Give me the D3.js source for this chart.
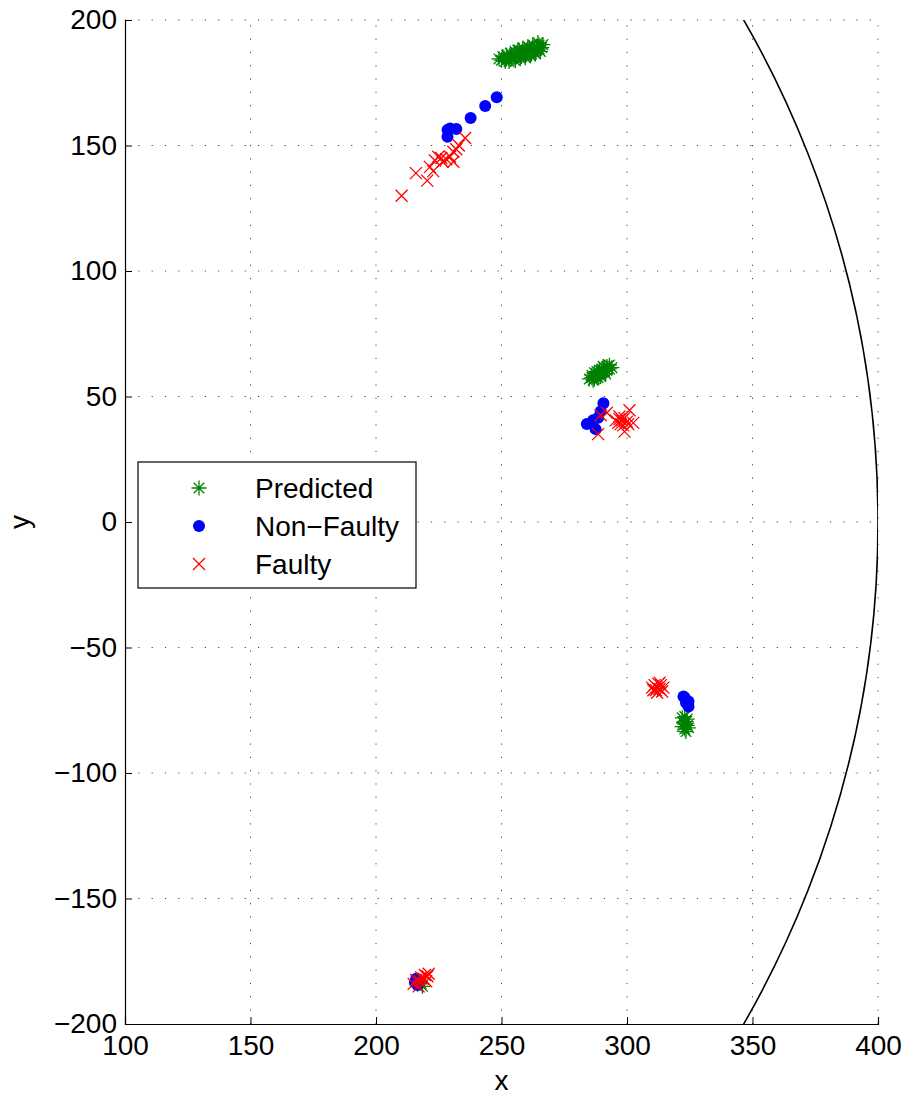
<!DOCTYPE html>
<html>
<head>
<meta charset="utf-8">
<script src="https://cdn.jsdelivr.net/npm/d3@7"></script>
<style>
  body { margin: 0; background: #fff; }
  text { font-family: "Liberation Sans", Arial, sans-serif; }
</style>
</head>
<body>
<div id="graph"></div>
<script>
// tick labels
const xTicks = [100, 150, 200, 250, 300, 350, 400];
const yTicks = [-200, -150, -100, -50, 0, 50, 100, 150, 200];
const circleRadius = 400;

// predicted positions (green asterisks)
const predicted = [
  [249, 184.5], [250, 184], [250.5, 185.5], [251, 185], [251.5, 183.5], [252, 184.5], [252, 186],
  [253, 185], [253, 183.5], [253.5, 186.8], [254, 186], [254, 184.5], [255, 186.5], [255, 185],
  [255.5, 183.8], [256, 187], [256, 185.5], [256.5, 188], [257, 186], [257, 188], [257.5, 184.8],
  [258, 187], [258, 185.5], [258.5, 188.8], [259, 187.5], [259, 186], [259.5, 185], [260, 188],
  [260, 186.5], [260.5, 189.3], [261, 187], [261, 189], [261.5, 185.8], [262, 188], [262, 186.5],
  [262.5, 190], [263, 189], [263, 187.5], [263.5, 186.5], [264, 188], [264, 189.5], [264.5, 191],
  [265, 188.5], [265, 190], [265.5, 187.5], [266, 189], [266.5, 190.2],
  [285, 57], [286, 57.5], [286, 58.5], [286.5, 56.5], [287, 58], [287, 59.5], [287, 57],
  [288, 58.5], [288, 60], [288.5, 57.5], [289, 59], [289, 60.5], [289.5, 58], [290, 59.5],
  [290, 61], [290.5, 62], [291, 60], [291, 61.5], [291.5, 59], [292, 60.5], [292, 62],
  [293, 61], [293, 62.5], [294, 61.5],
  [322, -78], [323, -77.5], [324, -78.5], [322.5, -80], [323.5, -79.5], [324, -81],
  [322, -81.5], [323, -82.5], [324.5, -82], [323, -80.5], [323.5, -83.5],
  [218, -184], [218.5, -185], [217.5, -183]
];

// non-faulty measurements (blue dots)
const nonFaulty = [
  [248.1, 169.2], [243.5, 165.7], [237.7, 161], [232, 156.6], [229.5, 156.8], [228.5, 156.2], [228.5, 153.5],
  [290.6, 47.3], [289.5, 44], [288.5, 41.5], [286.5, 40.5], [284, 39], [287.5, 37],
  [322.5, -69.5], [323, -70], [324.5, -71.5], [324.5, -73.5], [323.5, -72],
  [215.5, -183.5], [216, -182], [216.5, -184.5], [217, -183]
];

// faulty measurements (red crosses)
const faulty = [
  [210.2, 130], [215.9, 139], [220.4, 136], [221.5, 141.5], [222.8, 139.8], [223.5, 144],
  [224.8, 145.5], [226, 145], [226.5, 143.5], [228, 144.5], [229.5, 145.5], [230.8, 147.5],
  [232, 148.5], [230.8, 143.5], [233, 150], [235.5, 153],
  [289.5, 42.5], [292, 43.5], [288.5, 35], [295.5, 40.5], [296.5, 39.5], [297, 41], [297.5, 39],
  [298, 40.5], [298.5, 38.5], [299, 41.5], [299, 36], [300, 40], [300.5, 39], [301, 44.5],
  [302.5, 39.5], [297, 42],
  [310, -66], [311, -65], [311.5, -67], [312, -66], [312.5, -64.5], [313, -66.5], [313.5, -65],
  [314, -67.5], [314.5, -66], [312, -68], [310.5, -67], [313, -64],
  [215, -184], [216, -182.5], [217.5, -183], [218, -181.5], [219, -182], [219.5, -180.5],
  [220.5, -181], [221, -180], [217, -185], [220, -183]
];

const width = 906, height = 1097;
const margin = {top: 20, right: 28, bottom: 73, left: 125};
const fontSize = 28;

const svg = d3.select("#graph").append("svg")
    .attr("width", width)
    .attr("height", height);

const x = d3.scaleLinear().domain([100, 400]).range([margin.left, width - margin.right]);
const y = d3.scaleLinear().domain([-200, 200]).range([height - margin.bottom, margin.top]);

svg.append("clipPath").attr("id", "clip")
  .append("rect")
    .attr("x", x(100)).attr("y", y(200))
    .attr("width", x(400) - x(100)).attr("height", y(-200) - y(200));

// dotted grid
const grid = svg.append("g")
    .attr("stroke", "#444")
    .attr("stroke-width", 1)
    .attr("stroke-dasharray", "1.2,12.1");
grid.selectAll(".gx").data(xTicks.slice(1)).join("line")
    .attr("x1", d => x(d)).attr("x2", d => x(d))
    .attr("y1", y(-200)).attr("y2", y(200));
grid.selectAll(".gy").data(yTicks.slice(1)).join("line")
    .attr("y1", d => y(d)).attr("y2", d => y(d))
    .attr("x1", x(100)).attr("x2", x(400));

// the circle boundary
svg.append("circle")
    .attr("clip-path", "url(#clip)")
    .attr("cx", x(0)).attr("cy", y(0))
    .attr("r", x(circleRadius) - x(0))
    .attr("fill", "none")
    .attr("stroke", "#000")
    .attr("stroke-width", 1.6);

// markers
const star = "M-7.5,0H7.5M0,-7.5V7.5M-5.3,-5.3L5.3,5.3M-5.3,5.3L5.3,-5.3";
const cross = "M-6,-6L6,6M-6,6L6,-6";

svg.append("g").selectAll("path").data(predicted).join("path")
    .attr("transform", d => `translate(${x(d[0])},${y(d[1])})`)
    .attr("d", star)
    .attr("stroke", "#008000").attr("stroke-width", 1.3).attr("fill", "none");

svg.append("g").selectAll("circle").data(nonFaulty).join("circle")
    .attr("cx", d => x(d[0])).attr("cy", d => y(d[1]))
    .attr("r", 6)
    .attr("fill", "#0000ff");

svg.append("g").selectAll("path").data(faulty).join("path")
    .attr("transform", d => `translate(${x(d[0])},${y(d[1])})`)
    .attr("d", cross)
    .attr("stroke", "#ff0000").attr("stroke-width", 1.3).attr("fill", "none");

// axes (left and bottom only, ticks inward)
const xAxis = svg.append("g")
    .attr("transform", `translate(0,${y(-200)})`)
    .call(d3.axisTop(x).tickValues(xTicks).tickSize(7).tickFormat(d3.format("d")));
xAxis.select(".domain").attr("stroke-width", 1.2);
xAxis.selectAll("text")
    .attr("y", 11).attr("dy", "0.71em")
    .attr("font-size", fontSize).attr("fill", "#000");

const yAxis = svg.append("g")
    .attr("transform", `translate(${x(100)},0)`)
    .call(d3.axisRight(y).tickValues(yTicks).tickSize(7)
      .tickFormat(d => d < 0 ? "\u2212" + Math.abs(d) : d));
yAxis.select(".domain").attr("stroke-width", 1.2);
yAxis.selectAll("text")
    .attr("x", -8).attr("text-anchor", "end")
    .attr("font-size", fontSize).attr("fill", "#000");

svg.append("text")
    .attr("x", (x(100) + x(400)) / 2).attr("y", 1090)
    .attr("text-anchor", "middle")
    .attr("font-size", fontSize)
    .text("x");

svg.append("text")
    .attr("transform", `translate(29,${y(0)}) rotate(-90)`)
    .attr("text-anchor", "middle")
    .attr("font-size", fontSize)
    .text("y");

// legend
const legend = svg.append("g").attr("transform", "translate(138,462)");
legend.append("rect")
    .attr("width", 278).attr("height", 126)
    .attr("fill", "#fff").attr("stroke", "#000").attr("stroke-width", 1.2);
const items = [
  {label: "Predicted", kind: "star"},
  {label: "Non\u2212Faulty", kind: "dot"},
  {label: "Faulty", kind: "cross"}
];
const row = legend.selectAll(".item").data(items).join("g")
    .attr("transform", (d, i) => `translate(61,${26 + i * 38})`);
row.filter(d => d.kind === "star").append("path")
    .attr("d", star).attr("stroke", "#008000").attr("stroke-width", 1.3);
row.filter(d => d.kind === "dot").append("circle")
    .attr("r", 6).attr("fill", "#0000ff");
row.filter(d => d.kind === "cross").append("path")
    .attr("d", cross).attr("stroke", "#ff0000").attr("stroke-width", 1.3);
row.append("text")
    .attr("x", 56).attr("dy", "0.36em")
    .attr("font-size", fontSize)
    .text(d => d.label);
</script>
</body>
</html>
